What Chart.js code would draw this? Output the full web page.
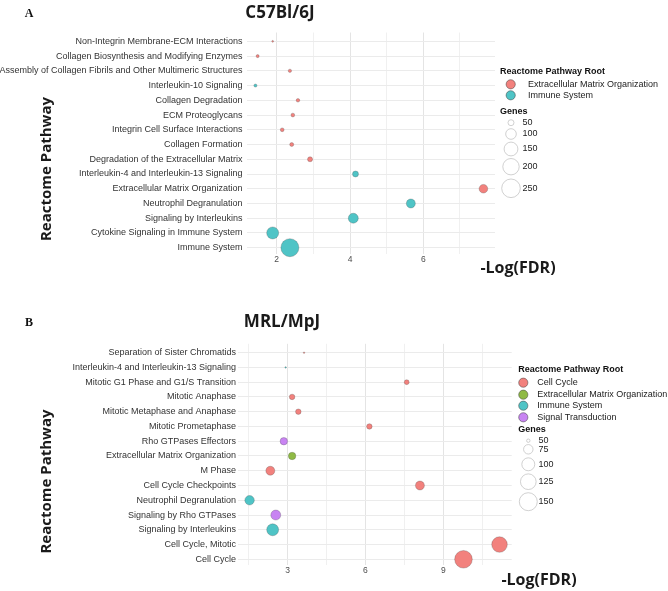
<!DOCTYPE html>
<html><head><meta charset="utf-8">
<script src="https://cdn.jsdelivr.net/npm/chart.js@4.4.1/dist/chart.umd.min.js"></script>
<style>
html,body{margin:0;padding:0;background:#fff;}
#wrap{position:relative;width:668px;height:591px;overflow:hidden;background:#fff;}
canvas{position:absolute;left:0;}
</style></head><body>
<div id="wrap">
<canvas id="cA" width="668" height="295" style="top:0"></canvas>
<canvas id="cB" width="668" height="296" style="top:295px"></canvas>
</div>
<script>
// ---------------- DATA (panel A: C57Bl/6J) ----------------
const pathwaysA = [
  "Non-Integrin Membrane-ECM Interactions",
  "Collagen Biosynthesis and Modifying Enzymes",
  "Assembly of Collagen Fibrils and Other Multimeric Structures",
  "Interleukin-10 Signaling",
  "Collagen Degradation",
  "ECM Proteoglycans",
  "Integrin Cell Surface Interactions",
  "Collagen Formation",
  "Degradation of the Extracellular Matrix",
  "Interleukin-4 and Interleukin-13 Signaling",
  "Extracellular Matrix Organization",
  "Neutrophil Degranulation",
  "Signaling by Interleukins",
  "Cytokine Signaling in Immune System",
  "Immune System"
];
const logFdrA = [1.89, 1.48, 2.36, 1.42, 2.58, 2.44, 2.15, 2.41, 2.91, 4.15, 7.64, 5.66, 4.09, 1.89, 2.36];
const genesA  = [29, 33, 34, 33, 35, 36, 36, 37, 43, 50, 75, 79, 91, 120, 236];
const rootA = [
  "Extracellular Matrix Organization","Extracellular Matrix Organization","Extracellular Matrix Organization",
  "Immune System","Extracellular Matrix Organization","Extracellular Matrix Organization",
  "Extracellular Matrix Organization","Extracellular Matrix Organization","Extracellular Matrix Organization",
  "Immune System","Extracellular Matrix Organization","Immune System","Immune System","Immune System","Immune System"
];
const rootsA = ["Extracellular Matrix Organization", "Immune System"];
const legendGenesA = [50, 100, 150, 200, 250];
const majorTicksA = [2, 4, 6];
const minorTicksA = [3, 5, 7];

// ---------------- DATA (panel B: MRL/MpJ) ----------------
const pathwaysB = [
  "Separation of Sister Chromatids",
  "Interleukin-4 and Interleukin-13 Signaling",
  "Mitotic G1 Phase and G1/S Transition",
  "Mitotic Anaphase",
  "Mitotic Metaphase and Anaphase",
  "Mitotic Prometaphase",
  "Rho GTPases Effectors",
  "Extracellular Matrix Organization",
  "M Phase",
  "Cell Cycle Checkpoints",
  "Neutrophil Degranulation",
  "Signaling by Rho GTPases",
  "Signaling by Interleukins",
  "Cell Cycle, Mitotic",
  "Cell Cycle"
];
const logFdrB = [3.63, 2.92, 7.59, 3.17, 3.41, 6.15, 2.85, 3.17, 2.33, 8.10, 1.53, 2.54, 2.42, 11.17, 9.78];
const genesB  = [47, 47, 54, 56, 56, 56, 64, 64, 72, 72, 75, 78, 92, 124, 146];
const rootB = [
  "Cell Cycle","Immune System","Cell Cycle","Cell Cycle","Cell Cycle","Cell Cycle",
  "Signal Transduction","Extracellular Matrix Organization","Cell Cycle","Cell Cycle",
  "Immune System","Signal Transduction","Immune System","Cell Cycle","Cell Cycle"
];
const rootsB = ["Cell Cycle", "Extracellular Matrix Organization", "Immune System", "Signal Transduction"];
const legendGenesB = [50, 75, 100, 125, 150];
const majorTicksB = [3, 6, 9];
const minorTicksB = [1.5, 4.5, 7.5, 10.5];

// ---------------- STYLE ----------------
const SANS = '"Liberation Sans", Arial, sans-serif';
const BOLD_TITLE = '"Open Sans", "DejaVu Sans", sans-serif';
const PINK = '#F2817D', TEAL = '#4FC4C6', GREEN = '#8FBA45', PURPLE = '#C884F2';

function makeChart(canvasId, d, s) {
  const n = d.pathways.length;
  const datasets = d.roots.map((root, k) => ({
    label: root,
    data: d.pathways.map((p, i) => i).filter(i => d.root[i] === root)
           .map(i => ({ x: d.logFdr[i], y: n - 1 - i, g: d.genes[i] })),
    backgroundColor: s.palette[k],
    borderColor: 'rgba(70,70,70,0.45)',
    borderWidth: 0.6,
    pointRadius: c => s.rad(c.raw ? c.raw.g : 50),
    pointHoverRadius: c => s.rad(c.raw ? c.raw.g : 50),
    clip: false
  }));
  // draw the largest bubbles first
  const allTicks = d.major.concat(d.minor).sort((a, b) => a - b);

  const annot = {
    id: 'annot' + canvasId,
    afterDraw(chart) {
      const ctx = chart.ctx;
      ctx.save();
      ctx.textBaseline = 'middle';
      // panel letter
      ctx.fillStyle = '#111';
      ctx.textAlign = 'center';
      ctx.font = 'bold 12px "Liberation Serif", "Times New Roman", serif';
      ctx.fillText(s.letter, s.letterX, s.letterY);
      // panel title
      ctx.fillStyle = '#1a1a1a';
      ctx.font = 'bold 17px ' + BOLD_TITLE;
      ctx.fillText(s.title, s.titleX, s.titleY);
      // x-axis title
      ctx.font = 'bold 16px ' + BOLD_TITLE;
      ctx.fillText('-Log(FDR)', s.xTitleX, s.xTitleY);
      // y-axis title
      ctx.save();
      ctx.translate(s.yTitleX, s.yTitleY);
      ctx.rotate(-Math.PI / 2);
      ctx.font = 'bold 15px ' + BOLD_TITLE;
      ctx.fillText('Reactome Pathway', 0, 0);
      ctx.restore();
      // legend: colour
      ctx.textAlign = 'left';
      ctx.fillStyle = '#111';
      ctx.font = 'bold 9px ' + SANS;
      ctx.fillText('Reactome Pathway Root', s.legX, s.legTitleY);
      ctx.font = '9px ' + SANS;
      d.roots.forEach((r, i) => {
        ctx.beginPath();
        ctx.arc(s.keyX, s.keyY[i], 4.6, 0, Math.PI * 2);
        ctx.fillStyle = s.palette[i];
        ctx.fill();
        ctx.lineWidth = 0.7;
        ctx.strokeStyle = 'rgba(60,60,60,0.7)';
        ctx.stroke();
        ctx.fillStyle = '#222';
        ctx.fillText(r, s.keyTextX, s.keyY[i]);
      });
      // legend: size
      ctx.font = 'bold 9px ' + SANS;
      ctx.fillStyle = '#111';
      ctx.fillText('Genes', s.legX, s.genesY);
      ctx.font = '9px ' + SANS;
      d.legendGenes.forEach((g, i) => {
        ctx.beginPath();
        ctx.arc(s.sizeX, s.sizeY[i], Math.max(0.5, s.rad(g)), 0, Math.PI * 2);
        ctx.fillStyle = '#fff';
        ctx.fill();
        ctx.lineWidth = 0.7;
        ctx.strokeStyle = '#BDBDBD';
        ctx.stroke();
        ctx.fillStyle = '#222';
        ctx.fillText(String(g), s.sizeTextX, s.sizeY[i]);
      });
      ctx.restore();
    }
  };

  return new Chart(document.getElementById(canvasId), {
    type: 'scatter',
    data: { datasets },
    plugins: [annot],
    options: {
      responsive: false,
      animation: false,
      devicePixelRatio: 1,
      events: [],
      layout: { padding: { left: 0, right: s.W - s.plotRight, top: s.plotTop, bottom: s.H - s.plotBottom - 14 } },
      plugins: { legend: { display: false }, tooltip: { enabled: false }, title: { display: false } },
      scales: {
        x: {
          type: 'linear', min: d.xMin, max: d.xMax,
          afterBuildTicks: sc => { sc.ticks = allTicks.map(v => ({ value: v })); },
          afterFit: sc => { sc.height = 14; },
          grid: {
            color: c => (c.tick && d.major.includes(c.tick.value)) ? '#E4E4E4' : '#F0F0F0',
            lineWidth: 1, drawTicks: false
          },
          border: { display: false },
          ticks: {
            callback: v => d.major.includes(v) ? String(v) : '',
            font: { family: SANS, size: 8.5 }, color: '#4D4D4D',
            padding: s.xTickPad, maxRotation: 0, autoSkip: false
          }
        },
        y: {
          type: 'linear', min: -0.4, max: n - 0.4,
          afterBuildTicks: sc => { sc.ticks = d.pathways.map((p, i) => ({ value: i })); },
          afterFit: sc => { sc.width = s.plotLeft; },
          grid: { color: '#EBEBEB', lineWidth: 1, drawTicks: false },
          border: { display: false },
          ticks: {
            callback: v => d.pathways[n - 1 - v],
            font: { family: SANS, size: 9 }, color: '#333',
            padding: s.yTickPad, autoSkip: false
          }
        }
      }
    }
  });
}

const radA = g => Math.sqrt(Math.max(0.6, 0.3875 * g - 10.4));
const radB = g => Math.sqrt(Math.max(0.3, 0.78 * g - 36.1));

makeChart('cA',
  { pathways: pathwaysA, logFdr: logFdrA, genes: genesA, root: rootA, roots: rootsA,
    legendGenes: legendGenesA, major: majorTicksA, minor: minorTicksA, xMin: 1.176, xMax: 7.956 },
  { W: 668, H: 295, plotLeft: 246.5, plotRight: 495, plotTop: 32.5, plotBottom: 253.6,
    xTickPad: 1, yTickPad: 4, rad: radA, palette: [PINK, TEAL],
    letter: 'A', letterX: 29, letterY: 13.5, title: 'C57Bl/6J', titleX: 280, titleY: 13.5,
    xTitleX: 518, xTitleY: 268, yTitleX: 47, yTitleY: 169,
    legX: 500, legTitleY: 72, keyX: 510.7, keyY: [84.3, 95.3], keyTextX: 528,
    genesY: 111.7, sizeX: 511, sizeY: [122.7, 134, 149, 166.7, 188.3], sizeTextX: 522.5 });

makeChart('cB',
  { pathways: pathwaysB, logFdr: logFdrB, genes: genesB, root: rootB, roots: rootsB,
    legendGenes: legendGenesB, major: majorTicksB, minor: minorTicksB, xMin: 1.083, xMax: 11.64 },
  { W: 668, H: 296, plotLeft: 238, plotRight: 511.7, plotTop: 48.8, plotBottom: 270.2,
    xTickPad: 0, yTickPad: 2, rad: radB, palette: [PINK, GREEN, TEAL, PURPLE],
    letter: 'B', letterX: 29, letterY: 28, title: 'MRL/MpJ', titleX: 282, titleY: 26.7,
    xTitleX: 539, xTitleY: 285.7, yTitleX: 47, yTitleY: 186.5,
    legX: 518.3, legTitleY: 75, keyX: 523.3, keyY: [87.7, 99.7, 110.7, 122.3], keyTextX: 537.3,
    genesY: 135, sizeX: 528.3, sizeY: [145.7, 154.3, 169.3, 186.7, 206.7], sizeTextX: 538.5 });
</script>
</body></html>
